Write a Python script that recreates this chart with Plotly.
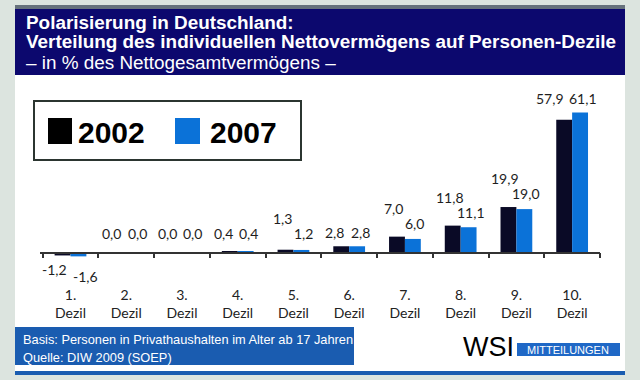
import plotly.graph_objects as go

# ---------------- data ----------------
categories = ["1. Dezil", "2. Dezil", "3. Dezil", "4. Dezil", "5. Dezil",
              "6. Dezil", "7. Dezil", "8. Dezil", "9. Dezil", "10. Dezil"]
tick_labels = ["1.<br>Dezil", "2.<br>Dezil", "3.<br>Dezil", "4.<br>Dezil", "5.<br>Dezil",
               "6.<br>Dezil", "7.<br>Dezil", "8.<br>Dezil", "9.<br>Dezil", "10.<br>Dezil"]
series_names = ["2002", "2007"]
values_2002 = [-1.2, 0.0, 0.0, 0.4, 1.3, 2.8, 7.0, 11.8, 19.9, 57.9]
values_2007 = [-1.6, 0.0, 0.0, 0.4, 1.2, 2.8, 6.0, 11.1, 19.0, 61.1]

title_lines = ["Polarisierung in Deutschland:",
               "Verteilung des individuellen Nettovermögens auf Personen-Dezile",
               "– in % des Nettogesamtvermögens –"]
footer_lines = ["Basis: Personen in Privathaushalten im Alter ab 17 Jahren",
                "Quelle: DIW 2009 (SOEP)"]

# ---------------- style ----------------
W, H = 640, 380
M = dict(l=40, r=40, t=100, b=115)
PW = W - M["l"] - M["r"]
PH = H - M["t"] - M["b"]
Y_MIN, Y_MAX = -5.36, 66.54

BG = "#dce4df"
NAVY = "#0c086e"
BLUE_BOX = "#1a5cb0"
COL_2002 = "#0a0a26"
COL_2007 = "#0b72d8"
LEG_2002 = "#000000"
TXT = "#1e1e1e"
LABEL_FONT = "Lato"
LABEL_SIZE = 14
SANS = "Liberation Sans, Arial, sans-serif"


def px(x):
    return (x - M["l"]) / PW


def py(y):
    return (H - M["b"] - y) / PH


fig = go.Figure()
for name, vals, col in [(series_names[0], values_2002, COL_2002),
                        (series_names[1], values_2007, COL_2007)]:
    fig.add_trace(go.Bar(name=name, x=categories, y=vals,
                         marker=dict(color=col, line=dict(width=0)),
                         hoverinfo="x+y+name"))

shapes = []


def rect(x0, y0, x1, y1, fill, line_color=None, line_width=0, layer="below"):
    shapes.append(dict(type="rect", xref="paper", yref="paper",
                       x0=px(x0), x1=px(x1), y0=py(y1), y1=py(y0),
                       fillcolor=fill, layer=layer,
                       line=dict(color=line_color or fill, width=line_width)))


rect(15, 9, 625, 371, "#ffffff")            # white panel
rect(15, 5, 625, 9, "#66717c")              # top strip
rect(15, 9, 625, 75, NAVY)                  # title band
rect(15, 327, 354, 365, BLUE_BOX)           # footer box
rect(15, 371, 625, 375, BLUE_BOX)           # bottom line
rect(34, 101, 301, 160, "#ffffff", "#2b3530", 2)   # legend box
rect(48, 118, 72, 144, LEG_2002)            # legend swatch 2002
rect(175, 118, 200, 144, COL_2007)          # legend swatch 2007
rect(517, 343, 620, 356, "#1f68c6")         # MITTEILUNGEN box

ann = []


def text(x, y, s, size, color="#ffffff", bold=False, family=SANS, xanchor="left"):
    ann.append(dict(xref="paper", yref="paper", x=px(x), y=py(y),
                    xanchor=xanchor, yanchor="middle", showarrow=False,
                    text=("<b>%s</b>" % s) if bold else s,
                    font=dict(size=size, color=color, family=family)))


text(24, 22, title_lines[0], 18.9, bold=True)
text(24, 42, title_lines[1], 18.9, bold=True)
text(24, 62, title_lines[2], 18.9)
text(76, 132, series_names[0], 30, color="#000000", bold=True)
text(208, 132, series_names[1], 30, color="#000000", bold=True)
text(21, 339, footer_lines[0], 12.8)
text(21, 357, footer_lines[1], 12.8)
text(461, 347, "WSI", 27, color="#000000")
text(568, 350, "MITTEILUNGEN", 11, xanchor="center")


def label_width(s):
    # rough pixel width of a value label
    return sum(0.23 if c == "," else 0.58 for c in s) * LABEL_SIZE


# value labels
FLOOR = 2.5
LIFT = 15
GAP = 6
for i, cat in enumerate(categories):
    a, b = values_2002[i], values_2007[i]
    la = ("%.1f" % a).replace(".", ",")
    lb = ("%.1f" % b).replace(".", ",")
    if a > b >= 0:
        shifts = (-11, 10)
    elif b < a < 0:
        shifts = (-16, 15)
    else:
        dist = (label_width(la) + label_width(lb)) / 2 + GAP
        shifts = (11 - dist, 11)
    for j, (v, lbl) in enumerate(((a, la), (b, lb))):
        if max(a, b) >= 0:
            anchor = max(a, b, FLOOR)
            ys = 3 + (LIFT if (j == 0 and a > b) else 0)
            yan = "bottom"
        else:
            anchor = min(a, b)
            ys = -3 - (7 if (j == 1 and b < a) else 0)
            yan = "top"
        ann.append(dict(x=cat, y=anchor, xref="x", yref="y", xshift=shifts[j], yshift=ys,
                        xanchor="center", yanchor=yan, showarrow=False, text=lbl,
                        font=dict(size=LABEL_SIZE, color=TXT, family=LABEL_FONT)))

axis_pos = (0 - Y_MIN) / (Y_MAX - Y_MIN)

fig.update_layout(
    width=W, height=H, margin=M,
    paper_bgcolor=BG, plot_bgcolor="rgba(0,0,0,0)",
    showlegend=False, barmode="group", bargap=0.43, bargroupgap=0,
    shapes=shapes, annotations=ann,
    xaxis=dict(type="category", anchor="free", position=axis_pos,
               showline=True, linecolor="#333333", linewidth=1.5,
               ticks="outside", tickson="boundaries", ticklen=5,
               tickcolor="#333333", tickwidth=1.5, showgrid=False,
               tickvals=categories, ticktext=tick_labels,
               tickfont=dict(family=LABEL_FONT, size=14, color="#222222"),
               ticklabelstandoff=30, fixedrange=True),
    yaxis=dict(range=[Y_MIN, Y_MAX], visible=False, showgrid=False,
               zeroline=False, fixedrange=True),
)

fig.write_html("out.html", config={"displayModeBar": False},
               post_script="document.body.style.margin='0';document.body.style.overflow='hidden';")
